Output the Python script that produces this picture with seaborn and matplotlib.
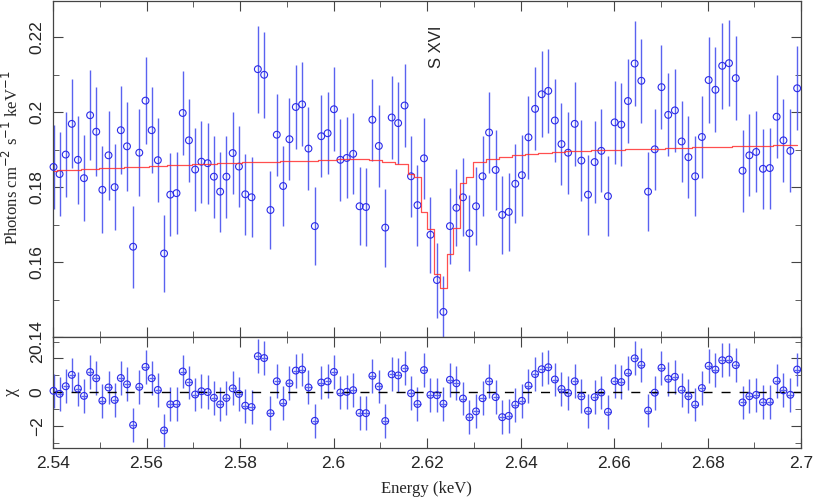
import numpy as np
import pandas as pd
import matplotlib
matplotlib.use('Agg')
import matplotlib.pyplot as plt
from matplotlib.ticker import MultipleLocator, FormatStrFormatter
import seaborn as sns

# bin centres (keV)
energy = [2.54010, 2.54140, 2.54271, 2.54401, 2.54532, 2.54662, 2.54793, 2.54924, 2.55055, 2.55187,
          2.55318, 2.55450, 2.55582, 2.55713, 2.55845, 2.55978, 2.56110, 2.56242, 2.56375, 2.56508,
          2.56641, 2.56774, 2.56907, 2.57040, 2.57174, 2.57307, 2.57441, 2.57575, 2.57709, 2.57843,
          2.57977, 2.58112, 2.58246, 2.58381, 2.58516, 2.58651, 2.58786, 2.58922, 2.59057, 2.59193,
          2.59328, 2.59464, 2.59600, 2.59737, 2.59873, 2.60009, 2.60146, 2.60283, 2.60420, 2.60557,
          2.60694, 2.60831, 2.60969, 2.61106, 2.61244, 2.61382, 2.61520, 2.61658, 2.61796, 2.61935,
          2.62073, 2.62212, 2.62351, 2.62490, 2.62629, 2.62769, 2.62908, 2.63048, 2.63187, 2.63327,
          2.63467, 2.63608, 2.63748, 2.63888, 2.64029, 2.64170, 2.64311, 2.64452, 2.64593, 2.64734,
          2.64876, 2.65017, 2.65159, 2.65301, 2.65443, 2.65585, 2.65728, 2.65870, 2.66013, 2.66155,
          2.66298, 2.66441, 2.66584, 2.66728, 2.66871, 2.67015, 2.67159, 2.67302, 2.67446, 2.67591,
          2.67735, 2.67879, 2.68024, 2.68169, 2.68314, 2.68459, 2.68604, 2.68749, 2.68895, 2.69040,
          2.69186, 2.69332, 2.69478, 2.69624, 2.69771, 2.69917]

# measured flux (photons cm^-2 s^-1 keV^-1)
flux = [.1854, .1835, .1887, .1969, .1873, .1824, .1992, .1948, .1793, .1885,
        .1800, .1952, .1909, .1641, .1892, .2031, .1952, .1872, .1623, .1780,
        .1784, .1998, .1925, .1847, .1868, .1864, .1828, .1788, .1828, .1891,
        .1855, .1781, .1773, .2115, .2100, .1739, .1940, .1803, .1928, .2014,
        .2021, .1903, .1696, .1936, .1944, .2008, .1873, .1878, .1889, .1749,
        .1747, .1980, .1910, .1692, .1986, .1971, .2018, .1829, .1752, .1877,
        .1673, .1552, .1467, .1696, .1745, .1773, .1677, .1749, .1829, .1946,
        .1846, .1726, .1734, .1809, .1832, .1933, .2009, .2048, .2057, .1978,
        .1915, .1892, .1969, .1871, .1780, .1867, .1897, .1776, .1973, .1967,
        .2030, .2130, .2084, .1788, .1901, .2067, .1993, .2005, .1922, .1880,
        .1829, .1934, .2086, .2060, .2124, .2131, .2091, .1844, .1885, .1894,
        .1849, .1851, .1988, .1925, .1897, .2064]

# 1-sigma errors
flux_err = [.0111, .0112, .0114, .0119, .0117, .0115, .0120, .0119, .0116, .0118,
            .0114, .0118, .0118, .0110, .0116, .0117, .0115, .0112, .0104, .0110,
            .0110, .0113, .0111, .0110, .0109, .0108, .0109, .0107, .0109, .0110,
            .0108, .0108, .0107, .0116, .0115, .0105, .0110, .0108, .0110, .0112,
            .0112, .0110, .0104, .0110, .0110, .0112, .0109, .0108, .0108, .0104,
            .0104, .0110, .0109, .0104, .0111, .0110, .0111, .0108, .0108, .0108,
            .0102, .0100, .0097, .0101, .0103, .0104, .0102, .0104, .0107, .0108,
            .0107, .0105, .0105, .0106, .0108, .0110, .0111, .0115, .0112, .0112,
            .0110, .0109, .0112, .0109, .0107, .0110, .0111, .0107, .0110, .0110,
            .0111, .0114, .0112, .0106, .0108, .0113, .0111, .0110, .0109, .0109,
            .0107, .0110, .0114, .0114, .0114, .0115, .0113, .0109, .0109, .0108,
            .0107, .0108, .0111, .0111, .0111, .0112]

# folded model
model = [.1844, .1845, .1846, .1846, .1847, .1848, .1848, .1849, .1850, .1851,
         .1851, .1852, .1853, .1853, .1854, .1855, .1856, .1856, .1857, .1858,
         .1859, .1859, .1860, .1861, .1861, .1862, .1863, .1864, .1864, .1865,
         .1865, .1866, .1866, .1867, .1867, .1868, .1868, .1869, .1869, .1870,
         .1870, .1871, .1871, .1872, .1873, .1873, .1874, .1875, .1875, .1875,
         .1875, .1872, .1872, .1868, .1868, .1861, .1861, .1835, .1826, .1735,
         .1688, .1569, .1532, .1621, .1690, .1811, .1827, .1866, .1866, .1876,
         .1876, .1880, .1880, .1886, .1886, .1889, .1889, .1891, .1891, .1893,
         .1893, .1896, .1896, .1897, .1897, .1898, .1898, .1899, .1900, .1900,
         .1901, .1901, .1902, .1902, .1903, .1903, .1904, .1904, .1905, .1905,
         .1906, .1906, .1907, .1907, .1908, .1908, .1909, .1909, .1910, .1910,
         .1911, .1911, .1912, .1912, .1913, .1913]

df = pd.DataFrame({'energy': energy, 'flux': flux, 'err': flux_err, 'model': model})
df['chi'] = (df.flux - df.model) / df.err

sns.set_style('ticks')
plt.rcParams['font.family'] = ['Liberation Sans', 'DejaVu Sans']
plt.rcParams['axes.linewidth'] = 0.9

fig = plt.figure(figsize=(8.3, 4.98), dpi=100)
ax1 = fig.add_axes([0.0639, 0.3233, 0.9012, 0.6747])
ax2 = fig.add_axes([0.0639, 0.1010, 0.9012, 0.2223], sharex=ax1)

point_col = '#2a2ae8'
bar_col = '#5a62f0'

# top panel: spectrum + model
ax1.errorbar(df.energy, df.flux, yerr=df.err, fmt='none', ecolor=bar_col, elinewidth=1.0)
sns.scatterplot(data=df, x='energy', y='flux', ax=ax1, marker='o', s=24,
                facecolor='none', edgecolor=point_col, linewidth=0.8, clip_on=False, zorder=3)
sns.lineplot(data=df, x='energy', y='model', ax=ax1, color='#ff3030', linewidth=0.9,
             alpha=0.85, drawstyle='steps-mid', estimator=None, sort=False, zorder=4)
ax1.text(2.6221, 0.2174, 'S XVI', rotation=90, ha='center', va='center', fontsize=12)

# bottom panel: residuals
ax2.errorbar(df.energy, df.chi, yerr=1, xerr=0.00065, fmt='none', ecolor=bar_col, elinewidth=1.0)
sns.scatterplot(data=df, x='energy', y='chi', ax=ax2, marker='o', s=24,
                facecolor='none', edgecolor=point_col, linewidth=0.8, clip_on=False, zorder=3)
ax2.axhline(0, color='black', linewidth=1.0, dashes=(6.5, 6.5), zorder=2)

ax1.set_xlim(2.54, 2.70)
ax1.set_ylim(0.14, 0.2297)
ax2.set_ylim(-3.27, 3.27)

for ax in (ax1, ax2):
    ax.set_xlabel('')
    ax.set_ylabel('')
    ax.xaxis.set_major_locator(MultipleLocator(0.02))
    ax.xaxis.set_minor_locator(MultipleLocator(0.01))
    ax.tick_params(which='both', direction='in', top=True, right=True, labelsize=12.5,
                   color='#444444')
    ax.tick_params(which='major', length=7)
    ax.tick_params(which='minor', length=4)
    ax.tick_params(axis='y', labelrotation=90, pad=6)
    ax.tick_params(axis='x', pad=6)
    for sp in ax.spines.values():
        sp.set_color('#444444')

ax1.yaxis.set_major_locator(MultipleLocator(0.02))
ax1.yaxis.set_minor_locator(MultipleLocator(0.01))
ax1.yaxis.set_major_formatter(FormatStrFormatter('%g'))
ax1.tick_params(axis='x', labelbottom=False)
for lab in ax1.get_yticklabels():
    lab.set_va('center')

ax2.yaxis.set_major_locator(MultipleLocator(2))
ax2.yaxis.set_minor_locator(MultipleLocator(1))
ax2.xaxis.set_major_formatter(FormatStrFormatter('%g'))
for lab in ax2.get_yticklabels():
    lab.set_va('center')

serif = ['Liberation Serif', 'DejaVu Serif']
fig.text(12 / 830, 1 - 158 / 498, 'Photons cm$^{-2}$ s$^{-1}$ keV$^{-1}$', rotation=90,
         ha='center', va='center', fontsize=12, family=serif)
fig.text(12 / 830, 1 - 392 / 498, 'χ', rotation=90, ha='center', va='center',
         fontsize=13, family=serif)
fig.text(426 / 830, 1 - 489 / 498, 'Energy (keV)', ha='center', va='center',
         fontsize=12, family=serif)

plt.rcParams['mathtext.fontset'] = 'custom'
plt.savefig('out.png', dpi=100)
